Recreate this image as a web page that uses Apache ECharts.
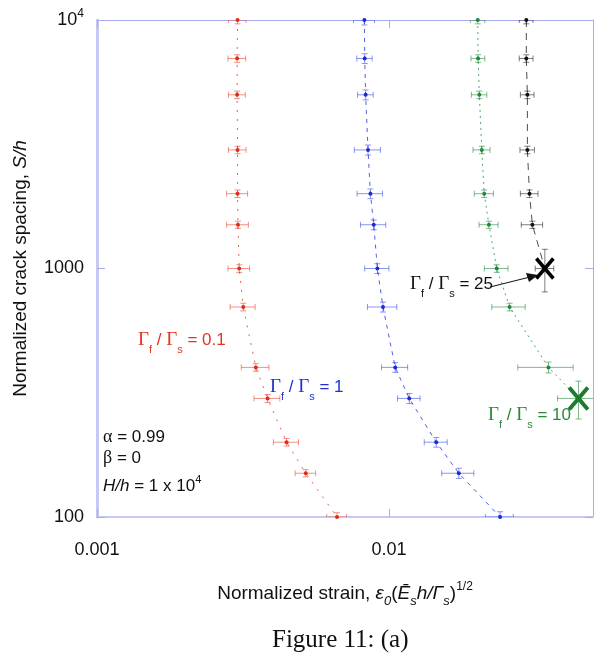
<!DOCTYPE html>
<html>
<head>
<meta charset="utf-8">
<script src="https://cdn.jsdelivr.net/npm/echarts@6/dist/echarts.min.js"></script>
<style>
html, body { margin: 0; padding: 0; background: #fff; }
#main { width: 602px; height: 662px; }
</style>
</head>
<body>
<div id="main"></div>
<script>
// crack spacing S/h (y), shared by all curves
var spacing = [10000, 7000, 5000, 3000, 2000, 1500, 1000, 700, 400, 300, 200, 150, 100];

// Gf/Gs = 0.1
var redStrain = [0.00303, 0.00302, 0.00302, 0.00303, 0.00303, 0.00304, 0.00307, 0.00317, 0.0035, 0.00384, 0.00446, 0.00519, 0.00664];
var redXErr = [0.00021, 0.00021, 0.0002, 0.00021, 0.00025, 0.00026, 0.00026, 0.00031, 0.00038, 0.00039, 0.00044, 0.00042, 0.00052];
var redYErr = [350, 245, 175, 105, 70, 50, 35, 25, 14, 11, 7, 5, 4];

// Gf/Gs = 1
var blueStrain = [0.00824, 0.00826, 0.00832, 0.00848, 0.00864, 0.00887, 0.00913, 0.00954, 0.01051, 0.01174, 0.01452, 0.01735, 0.02403];
var blueXErr = [0.00068, 0.0005, 0.00051, 0.00087, 0.00086, 0.00088, 0.00087, 0.0011, 0.00108, 0.00104, 0.00131, 0.00219, 0.00264];
var blueYErr = [450, 315, 230, 140, 90, 68, 45, 32, 18, 14, 9, 7, 5];

// Gf/Gs = 10 (last point = X)
var greenSpacing = [10000, 7000, 5000, 3000, 2000, 1500, 1000, 700, 400, 300];
var greenStrain = [0.02015, 0.0202, 0.0204, 0.0208, 0.0212, 0.022, 0.0234, 0.0259, 0.0352, 0.0446];
var greenXErr = [0.00115, 0.0011, 0.00124, 0.00139, 0.00159, 0.00165, 0.00218, 0.00339, 0.00757, 0.0068];
var greenYErr = [350, 245, 175, 105, 70, 50, 35, 25, 20, 52];

// Gf/Gs = 25 (last point = X)
var blackSpacing = [10000, 7000, 5000, 3000, 2000, 1500, 1000];
var blackStrain = [0.02955, 0.02955, 0.0298, 0.0298, 0.0303, 0.031, 0.0342];
var blackXErr = [0.0016, 0.0016, 0.0016, 0.0017, 0.0021, 0.0026, 0.0025];
var blackYErr = [350, 245, 175, 105, 70, 50, 195];

var xTickLabels = ['0.001', '0.01'];
var yTickLabels = {100: '100', 1000: '1000', 10000: '10{sup|4}'};

function pairs(xs, ys, lastX) {
    return xs.map(function (x, i) {
        if (lastX && i === xs.length - 1) return {value: [x, ys[i]], symbol: 'none'};
        return [x, ys[i]];
    });
}

function errorBars(xs, ys, xe, ye, color) {
    return {
        type: 'custom',
        clip: true,
        z: 1,
        encode: {x: 0, y: 1},
        data: xs.map(function (x, i) { return [x, ys[i], xe[i], ye[i]]; }),
        renderItem: function (params, api) {
            var x = api.value(0), y = api.value(1), dx = api.value(2), dy = api.value(3);
            var c = api.coord([x, y]);
            var l = api.coord([x - dx, y]), r = api.coord([x + dx, y]);
            var t = api.coord([x, y + dy]), b = api.coord([x, y - dy]);
            var cap = 3;
            var st = {stroke: color, lineWidth: 1};
            return {type: 'group', children: [
                {type: 'line', shape: {x1: l[0], y1: c[1], x2: r[0], y2: c[1]}, style: st},
                {type: 'line', shape: {x1: l[0], y1: c[1] - cap, x2: l[0], y2: c[1] + cap}, style: st},
                {type: 'line', shape: {x1: r[0], y1: c[1] - cap, x2: r[0], y2: c[1] + cap}, style: st},
                {type: 'line', shape: {x1: c[0], y1: t[1], x2: c[0], y2: b[1]}, style: st},
                {type: 'line', shape: {x1: c[0] - cap, y1: t[1], x2: c[0] + cap, y2: t[1]}, style: st},
                {type: 'line', shape: {x1: c[0] - cap, y1: b[1], x2: c[0] + cap, y2: b[1]}, style: st}
            ]};
        }
    };
}

function crossMark(x, y, color, size, width) {
    return {
        type: 'custom',
        z: 5,
        encode: {x: 0, y: 1},
        data: [[x, y]],
        renderItem: function (params, api) {
            var c = api.coord([api.value(0), api.value(1)]);
            var h = size / 2;
            var st = {stroke: color, lineWidth: width};
            return {type: 'group', children: [
                {type: 'line', shape: {x1: c[0] - h * 0.85, y1: c[1] - h, x2: c[0] + h * 0.85, y2: c[1] + h}, style: st},
                {type: 'line', shape: {x1: c[0] + h * 0.85, y1: c[1] - h, x2: c[0] - h * 0.85, y2: c[1] + h}, style: st}
            ]};
        }
    };
}

function curve(xs, ys, color, dash, lastX) {
    return {
        type: 'line',
        data: pairs(xs, ys, lastX),
        symbol: 'circle',
        symbolSize: 4,
        z: 3,
        itemStyle: {color: color},
        lineStyle: {color: color, width: 1, type: dash, opacity: 0.75},
        animation: false
    };
}

var font = 'Liberation Sans';

function ratioText(value, color) {
    var r = {
        g: {fontFamily: 'Liberation Serif', fontSize: 19, fill: color},
        n: {fontFamily: font, fontSize: 17, fill: color},
        sub: {fontFamily: font, fontSize: 11, fill: color, padding: [18, 0, 0, 0]}
    };
    return {
        text: '{g|Γ}{sub|f}{n| / }{g|Γ}{sub|s}{n| = ' + value + '}',
        rich: r
    };
}

var chartDom = document.getElementById('main');
var myChart = echarts.init(chartDom);

var axisLight = '#c6caf3';
var axisDark = '#a9adf0';

var option = {
    backgroundColor: '#FFFFFF',
    animation: false,
    grid: {left: 97, right: 9, top: 20, bottom: 145},
    xAxis: [
        {
            type: 'log',
            min: 0.001,
            max: 0.05,
            position: 'bottom',
            axisLine: {lineStyle: {color: axisLight, width: 2}},
            axisTick: {inside: true, length: 8, lineStyle: {color: axisDark}},
            splitLine: {show: false},
            minorTick: {show: false},
            axisLabel: {
                margin: 24, fontSize: 18, fontFamily: font, color: '#111',
                showMaxLabel: false,
                formatter: function (v) {
                    var s = v < 0.005 ? xTickLabels[0] : (Math.abs(v - 0.01) < 1e-6 ? xTickLabels[1] : '');
                    return s;
                }
            },
            name: 'Normalized strain, {e|ε}{esub|0}{n|(}{e|Ē}{esub|s}{e|h/Γ}{esub|s}{n|)}{sup|1/2}',
            nameLocation: 'middle',
            nameGap: 62,
            nameTextStyle: {
                fontSize: 19, fontFamily: font, color: '#111',
                rich: {
                    e: {fontSize: 19, fontFamily: font, fontStyle: 'italic', color: '#111'},
                    n: {fontSize: 19, fontFamily: font, color: '#111'},
                    esub: {fontSize: 13, fontFamily: font, fontStyle: 'italic', color: '#111', padding: [16, 0, 0, 0]},
                    sup: {fontSize: 12, fontFamily: font, color: '#111', padding: [0, 0, 14, 0]}
                }
            }
        },
        {
            type: 'log',
            min: 0.001,
            max: 0.05,
            position: 'top',
            axisLine: {lineStyle: {color: axisDark, width: 1}},
            axisTick: {inside: true, length: 8, lineStyle: {color: axisDark}},
            axisLabel: {show: false},
            splitLine: {show: false}
        }
    ],
    yAxis: [
        {
            type: 'log',
            min: 100,
            max: 10000,
            position: 'left',
            axisLine: {lineStyle: {color: axisLight, width: 3}},
            axisTick: {inside: true, length: 8, lineStyle: {color: axisDark}},
            splitLine: {show: false},
            axisLabel: {
                margin: 13, fontSize: 18, fontFamily: font, color: '#111',
                formatter: function (v) { return yTickLabels[Math.round(v)] || ''; },
                rich: {sup: {fontSize: 12, fontFamily: font, color: '#111', padding: [0, 0, 12, 0]}}
            },
            name: 'Normalized crack spacing, {i|S/h}',
            nameLocation: 'middle',
            nameGap: 67,
            nameTextStyle: {
                fontSize: 19, fontFamily: font, color: '#111',
                rich: {i: {fontSize: 19, fontFamily: font, fontStyle: 'italic', color: '#111'}}
            }
        },
        {
            type: 'log',
            min: 100,
            max: 10000,
            position: 'right',
            axisLine: {lineStyle: {color: axisDark, width: 1}},
            axisTick: {inside: true, length: 8, lineStyle: {color: axisDark}},
            axisLabel: {show: false},
            splitLine: {show: false}
        }
    ],
    series: [
        errorBars(redStrain, spacing, redXErr, redYErr, 'rgba(235,70,50,0.6)'),
        errorBars(blueStrain, spacing, blueXErr, blueYErr, 'rgba(60,80,230,0.6)'),
        errorBars(greenStrain, greenSpacing, greenXErr, greenYErr, 'rgba(40,140,60,0.6)'),
        errorBars(blackStrain, blackSpacing, blackXErr, blackYErr, 'rgba(0,0,0,0.5)'),
        curve(redStrain, spacing, '#e02a1a', [2, 7], false),
        curve(blueStrain, spacing, '#1a2bd6', [4, 5], false),
        curve(greenStrain, greenSpacing, '#1b8a3a', [2, 4], true),
        curve(blackStrain, blackSpacing, '#111111', [7, 6], true),
        crossMark(greenStrain[greenStrain.length - 1], greenSpacing[greenSpacing.length - 1], '#1e7a30', 22, 4),
        crossMark(blackStrain[blackStrain.length - 1], blackSpacing[blackSpacing.length - 1], '#000000', 20, 3.5)
    ],
    graphic: [
        {type: 'text', left: 138, top: 331, style: ratioText('0.1', '#e8321e')},
        {type: 'text', left: 270, top: 378, style: ratioText('1', '#2233cc')},
        {type: 'text', left: 488, top: 406, style: ratioText('10', '#2a8a3a')},
        {type: 'text', left: 410, top: 275, style: ratioText('25', '#111')},
        {type: 'line', shape: {x1: 490, y1: 287, x2: 530, y2: 277}, style: {stroke: '#111', lineWidth: 1}},
        {type: 'polygon', shape: {points: [[538, 275], [526, 273], [529, 282]]}, style: {fill: '#111'}},
        {type: 'text', left: 103, top: 428, style: {text: '{g|α}{n| = 0.99}', rich: {g: {fontFamily: 'Liberation Serif', fontSize: 18, fill: '#111'}, n: {fontFamily: font, fontSize: 17, fill: '#111'}}}},
        {type: 'text', left: 103, top: 449, style: {text: '{g|β}{n| = 0}', rich: {g: {fontFamily: 'Liberation Serif', fontSize: 18, fill: '#111'}, n: {fontFamily: font, fontSize: 17, fill: '#111'}}}},
        {type: 'text', left: 103, top: 474, style: {text: '{i|H/h}{n| = 1 x 10}{sup|4}', rich: {i: {fontFamily: font, fontStyle: 'italic', fontSize: 17, fill: '#111'}, n: {fontFamily: font, fontSize: 17, fill: '#111'}, sup: {fontFamily: font, fontSize: 11, fill: '#111', padding: [0, 0, 13, 0]}}}},
        {type: 'text', left: 272, top: 628, style: {text: 'Figure 11: (a)', fontFamily: 'Liberation Serif', fontSize: 25, fill: '#111'}}
    ]
};
myChart.setOption(option);
</script>
</body>
</html>
